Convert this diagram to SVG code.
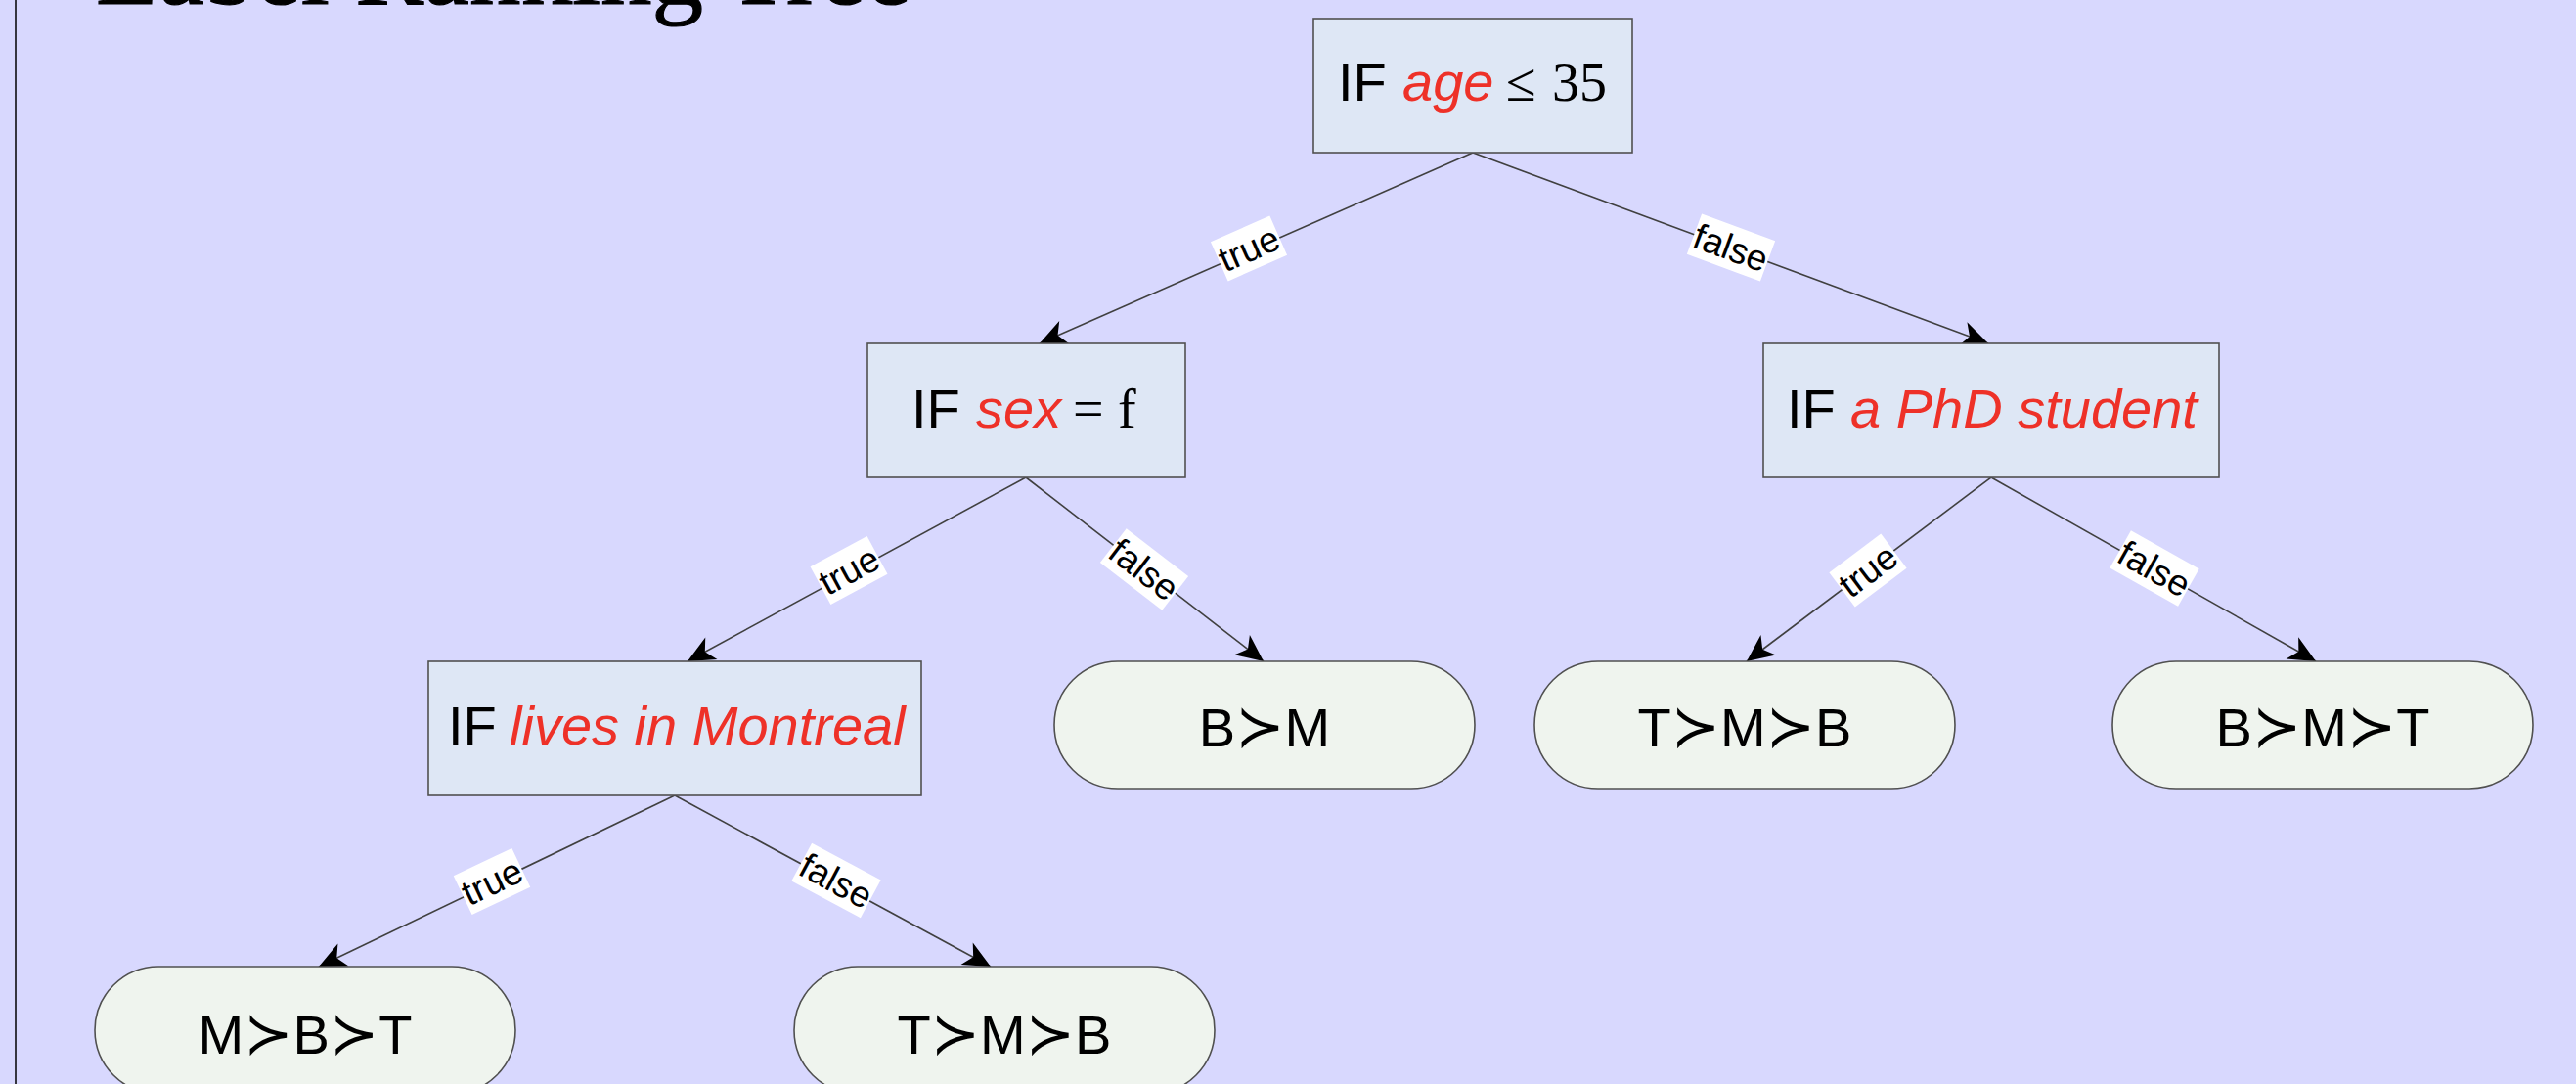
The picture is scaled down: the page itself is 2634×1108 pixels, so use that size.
<svg xmlns="http://www.w3.org/2000/svg" width="2634" height="1108" viewBox="0 0 2634 1108">
  <style>
    .bg { fill: #d8d8fe; }
    .test { fill: #dee7f5; stroke: #505050; stroke-width: 1.6; }
    .leaf { fill: #eff4ee; stroke: #505050; stroke-width: 1.6; }
    .edge { fill: none; stroke: #404040; stroke-width: 1.6; marker-end: url(#arrow); }
    .lblbox { fill: #ffffff; }
    .lbl { font-family: "Liberation Sans", Arial, sans-serif; font-size: 37px; fill: #000; text-anchor: middle; }
    .kw { font-family: "Liberation Sans", Arial, sans-serif; font-size: 56px; fill: #000; }
    .attr { font-family: "Liberation Sans", Arial, sans-serif; font-size: 56px; font-style: italic; fill: #ee3128; }
    .math { font-family: "Liberation Serif", "Times New Roman", serif; font-size: 56px; fill: #000; }
    .rank { font-family: "Liberation Sans", Arial, sans-serif; font-size: 56px; fill: #000; text-anchor: middle; }
    .succ { font-family: "DejaVu Sans", sans-serif; font-size: 60px; }
    .title { font-family: "Liberation Serif", "Times New Roman", serif; font-size: 105px; fill: #000; stroke: #000; stroke-width: 1.2; }
  </style>
  <defs>
    <marker id="arrow" markerUnits="userSpaceOnUse" markerWidth="32" markerHeight="32" viewBox="-28 -14 30 28" refX="0" refY="0" orient="auto">
      <path d="M0,0 L-26,-12 L-19,0 L-26,12 Z" fill="#000"/>
    </marker>
  </defs>

  <rect class="bg" x="0" y="0" width="2634" height="1108"/>
  <line x1="16" y1="0" x2="16" y2="1108" stroke="#000" stroke-width="1.5"/>
  <text class="title" x="98" y="4">Label Ranking Tree</text>

  <!-- connectors -->
  <g id="connectors">
    <line class="edge" x1="1506" y1="156" x2="1063" y2="351"/>
    <line class="edge" x1="1506" y1="156" x2="2033" y2="351"/>
    <line class="edge" x1="1049" y1="488" x2="703" y2="676"/>
    <line class="edge" x1="1049" y1="488" x2="1292" y2="676"/>
    <line class="edge" x1="2036" y1="488" x2="1786" y2="676"/>
    <line class="edge" x1="2036" y1="488" x2="2368" y2="676"/>
    <line class="edge" x1="690" y1="813" x2="326" y2="988"/>
    <line class="edge" x1="690" y1="813" x2="1013" y2="988"/>

    <g transform="translate(1277,254) rotate(-23.76)"><rect class="lblbox" x="-33" y="-22" width="66" height="44"/><text class="lbl" y="13">true</text></g>
    <g transform="translate(1770,253) rotate(20.3)"><rect class="lblbox" x="-40" y="-22" width="80" height="44"/><text class="lbl" y="13">false</text></g>
    <g transform="translate(868,583) rotate(-28.39)"><rect class="lblbox" x="-33" y="-22" width="66" height="44"/><text class="lbl" y="13">true</text></g>
    <g transform="translate(1170,582) rotate(37.58)"><rect class="lblbox" x="-40" y="-22" width="80" height="44"/><text class="lbl" y="13">false</text></g>
    <g transform="translate(1910,583) rotate(-36.8)"><rect class="lblbox" x="-33" y="-22" width="66" height="44"/><text class="lbl" y="13">true</text></g>
    <g transform="translate(2203,581) rotate(29.39)"><rect class="lblbox" x="-40" y="-22" width="80" height="44"/><text class="lbl" y="13">false</text></g>
    <g transform="translate(503,901) rotate(-25.42)"><rect class="lblbox" x="-33" y="-22" width="66" height="44"/><text class="lbl" y="13">true</text></g>
    <g transform="translate(855,900) rotate(28.17)"><rect class="lblbox" x="-40" y="-22" width="80" height="44"/><text class="lbl" y="13">false</text></g>
  </g>

  <!-- decision nodes -->
  <g id="node-age">
    <rect class="test" x="1343" y="19" width="326" height="137"/>
    <text class="kw" x="1368" y="103">IF</text>
    <text class="attr" x="1434" y="103">age</text>
    <text class="math" x="1540" y="103">≤</text>
    <text class="math" x="1587" y="103">35</text>
  </g>
  <g id="node-sex">
    <rect class="test" x="887" y="351" width="325" height="137"/>
    <text class="kw" x="932" y="437">IF</text>
    <text class="attr" x="998" y="437">sex</text>
    <text class="math" x="1097" y="437">=</text>
    <text class="math" x="1143" y="437">f</text>
  </g>
  <g id="node-phd">
    <rect class="test" x="1803" y="351" width="466" height="137"/>
    <text class="kw" x="1827" y="437">IF</text>
    <text class="attr" x="1892" y="437">a PhD student</text>
  </g>
  <g id="node-montreal">
    <rect class="test" x="438" y="676" width="504" height="137"/>
    <text class="kw" x="458" y="761">IF</text>
    <text class="attr" x="521" y="761">lives in Montreal</text>
  </g>

  <!-- ranking leaves -->
  <g id="leaf-bm">
    <rect class="leaf" x="1078" y="676" width="430" height="130" rx="65" ry="65"/>
    <text class="rank" x="1293" y="763">B<tspan class="succ">≻</tspan>M</text>
  </g>
  <g id="leaf-tmb-right">
    <rect class="leaf" x="1569" y="676" width="430" height="130" rx="65" ry="65"/>
    <text class="rank" x="1784" y="763">T<tspan class="succ">≻</tspan>M<tspan class="succ">≻</tspan>B</text>
  </g>
  <g id="leaf-bmt">
    <rect class="leaf" x="2160" y="676" width="430" height="130" rx="65" ry="65"/>
    <text class="rank" x="2375" y="763">B<tspan class="succ">≻</tspan>M<tspan class="succ">≻</tspan>T</text>
  </g>
  <g id="leaf-mbt">
    <rect class="leaf" x="97" y="988" width="430" height="130" rx="65" ry="65"/>
    <text class="rank" x="312" y="1077">M<tspan class="succ">≻</tspan>B<tspan class="succ">≻</tspan>T</text>
  </g>
  <g id="leaf-tmb-left">
    <rect class="leaf" x="812" y="988" width="430" height="130" rx="65" ry="65"/>
    <text class="rank" x="1027" y="1077">T<tspan class="succ">≻</tspan>M<tspan class="succ">≻</tspan>B</text>
  </g>
</svg>
